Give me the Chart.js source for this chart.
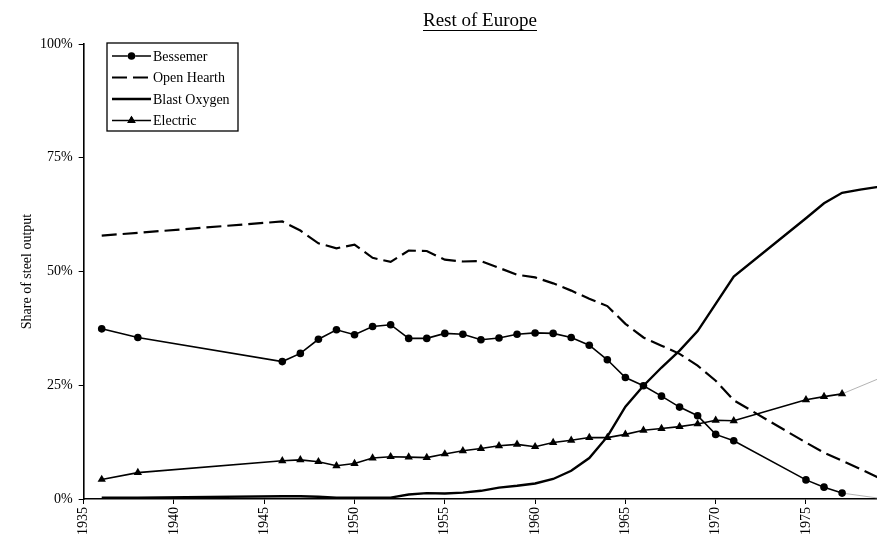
<!DOCTYPE html>
<html>
<head>
<meta charset="utf-8">
<script src="https://cdn.jsdelivr.net/npm/chart.js@4.4.0/dist/chart.umd.min.js"></script>
<style>
html, body { margin: 0; padding: 0; background: #fff; overflow: hidden; }
#marco { width: 877px; height: 538px; overflow: hidden; }
#wrap { width: 883px; height: 538px; position: relative; }
</style>
</head>
<body>
<div id="marco"><div id="wrap"><canvas id="myChart"></canvas></div></div>
<script>
// years with data (1978 only for the two lines that keep going)
const years = [1936, 1938, 1946, 1947, 1948, 1949, 1950, 1951, 1952, 1953, 1954, 1955, 1956, 1957,
  1958, 1959, 1960, 1961, 1962, 1963, 1964, 1965, 1966, 1967, 1968, 1969, 1970, 1971,
  1975, 1976, 1977, 1978, 1979];

const bessemer = [37.4, 35.5, 30.2, 32.0, 35.1, 37.2, 36.1, 37.9, 38.3, 35.3, 35.3, 36.4, 36.2, 35.0,
  35.4, 36.2, 36.5, 36.4, 35.5, 33.8, 30.6, 26.7, 24.9, 22.6, 20.2, 18.3, 14.2, 12.8,
  4.2, 2.6, 1.3, null, 0.2];

const openHearth = [57.9, 58.5, 61.0, 59.0, 56.2, 55.1, 55.9, 53.0, 52.1, 54.6, 54.5, 52.6, 52.2, 52.3,
  50.8, 49.3, 48.7, 47.4, 45.8, 44.0, 42.4, 38.5, 35.5, 33.7, 31.9, 29.3, 26.0, 21.7,
  12.4, 10.2, 8.4, 6.6, 4.7];

const blastOxygen = [0.3, 0.3, 0.6, 0.6, 0.5, 0.3, 0.3, 0.3, 0.3, 1.0, 1.3, 1.2, 1.4, 1.8,
  2.5, 2.9, 3.4, 4.4, 6.2, 9.0, 13.7, 20.3, 24.9, 28.9, 32.6, 36.9, 42.9, 48.9,
  61.7, 65.0, 67.3, 68.0, 68.6];

const electric = [4.3, 5.8, 8.4, 8.6, 8.2, 7.3, 7.8, 9.0, 9.3, 9.2, 9.1, 9.9, 10.6, 11.1,
  11.7, 12.0, 11.5, 12.4, 12.9, 13.5, 13.5, 14.2, 15.1, 15.5, 15.9, 16.5, 17.3, 17.2,
  21.8, 22.5, 23.1, null, 26.4];

const yTicks = [0, 25, 50, 75, 100];
const lastMarked = 1977;

const serif = '"Liberation Serif", "Times New Roman", serif';

function puntos(vals) {
  return years.map((y, i) => ({ x: y, y: vals[i] })).filter(p => p.y !== null);
}

// after 1977 the markers stop and the line goes on thin and grey
const thinAfter = {
  borderColor: c => c.p1.parsed.x > lastMarked ? '#a0a0a0' : '#000',
  borderWidth: c => c.p1.parsed.x > lastMarked ? 0.8 : 1.6
};
const radio = r => (c => (c.raw && c.raw.x > lastMarked) ? 0 : r);

const datasets = [
  {
    label: 'Bessemer', data: puntos(bessemer),
    borderColor: '#000', backgroundColor: '#000', borderWidth: 1.6,
    pointStyle: 'circle', pointRadius: radio(3.8), pointBorderWidth: 0,
    segment: thinAfter
  },
  {
    label: 'Open Hearth', data: puntos(openHearth),
    borderColor: '#000', borderWidth: 2.2, borderDash: [15, 6],
    pointRadius: 0
  },
  {
    label: 'Blast Oxygen', data: puntos(blastOxygen),
    borderColor: '#000', borderWidth: 2.4,
    pointRadius: 0
  },
  {
    label: 'Electric', data: puntos(electric),
    borderColor: '#000', backgroundColor: '#000', borderWidth: 1.6,
    pointStyle: 'triangle', pointRadius: radio(4.8), pointBorderWidth: 0,
    segment: thinAfter
  }
];

// title with underline, and the rotated y label
const textosPlugin = {
  id: 'textos',
  afterDraw(chart) {
    const ctx = chart.ctx;
    const a = chart.chartArea;
    ctx.save();
    ctx.fillStyle = '#000';
    ctx.font = '19px ' + serif;
    ctx.textAlign = 'center';
    ctx.textBaseline = 'alphabetic';
    ctx.fillText('Rest of Europe', 480, 26);
    const w = ctx.measureText('Rest of Europe').width;
    ctx.strokeStyle = '#000';
    ctx.lineWidth = 1.2;
    ctx.beginPath();
    ctx.moveTo(480 - w / 2, 30.5);
    ctx.lineTo(480 + w / 2, 30.5);
    ctx.stroke();

    ctx.translate(27, (a.top + a.bottom) / 2);
    ctx.rotate(-Math.PI / 2);
    ctx.font = '14px ' + serif;
    ctx.textBaseline = 'middle';
    ctx.fillText('Share of steel output', 0, 0);
    ctx.restore();
  }
};

// boxed legend inside the plot
const leyendaPlugin = {
  id: 'leyenda',
  afterDraw(chart) {
    const ctx = chart.ctx;
    const x0 = 107, y0 = 43, w = 131, h = 88;
    ctx.save();
    ctx.fillStyle = '#fff';
    ctx.fillRect(x0, y0, w, h);
    ctx.strokeStyle = '#000';
    ctx.lineWidth = 1.3;
    ctx.strokeRect(x0, y0, w, h);
    const filas = [56, 77.5, 99, 120.5];
    chart.data.datasets.forEach((ds, i) => {
      const y = filas[i];
      ctx.strokeStyle = '#000';
      ctx.lineWidth = ds.borderWidth;
      ctx.setLineDash(ds.borderDash || []);
      ctx.beginPath();
      ctx.moveTo(112, y);
      ctx.lineTo(151, y);
      ctx.stroke();
      ctx.setLineDash([]);
      if (ds.pointStyle) {
        Chart.helpers.drawPoint(ctx, {
          pointStyle: ds.pointStyle, radius: ds.pointStyle === 'triangle' ? 4.8 : 3.8,
          borderWidth: 0, rotation: 0
        }, 131.5, y);
        ctx.fillStyle = '#000';
        ctx.fill();
      }
      ctx.fillStyle = '#000';
      ctx.font = '14px ' + serif;
      ctx.textAlign = 'left';
      ctx.textBaseline = 'middle';
      ctx.fillText(ds.label, 153, y + 1);
    });
    ctx.restore();
  }
};

const config = {
  type: 'line',
  data: { datasets: datasets },
  options: {
    responsive: true,
    maintainAspectRatio: false,
    animation: false,
    layout: { padding: { top: 44, right: 0, bottom: 0, left: 34 } },
    plugins: { legend: { display: false }, tooltip: { enabled: false } },
    scales: {
      x: {
        type: 'linear', min: 1935, max: 1979,
        afterBuildTicks: s => { s.ticks = s.ticks.filter(t => t.value % 5 === 0); },
        ticks: {
          stepSize: 5, minRotation: 90, maxRotation: 90, padding: 3,
          color: '#000', font: { family: serif, size: 14 },
          callback: v => String(v)
        },
        grid: { drawOnChartArea: false, drawTicks: true, tickLength: 5, color: '#000', lineWidth: 1 },
        border: { display: true, color: '#000', width: 1.6 }
      },
      y: {
        min: 0, max: 100,
        afterBuildTicks: s => { s.ticks = yTicks.map(v => ({ value: v })); },
        ticks: {
          color: '#000', padding: 6, font: { family: serif, size: 14 },
          callback: v => v + '%'
        },
        grid: { drawOnChartArea: false, drawTicks: true, tickLength: 5, color: '#000', lineWidth: 1 },
        border: { display: true, color: '#000', width: 1.6 }
      }
    }
  },
  plugins: [textosPlugin, leyendaPlugin]
};

const myChart = new Chart(document.getElementById('myChart'), config);
</script>
</body>
</html>
